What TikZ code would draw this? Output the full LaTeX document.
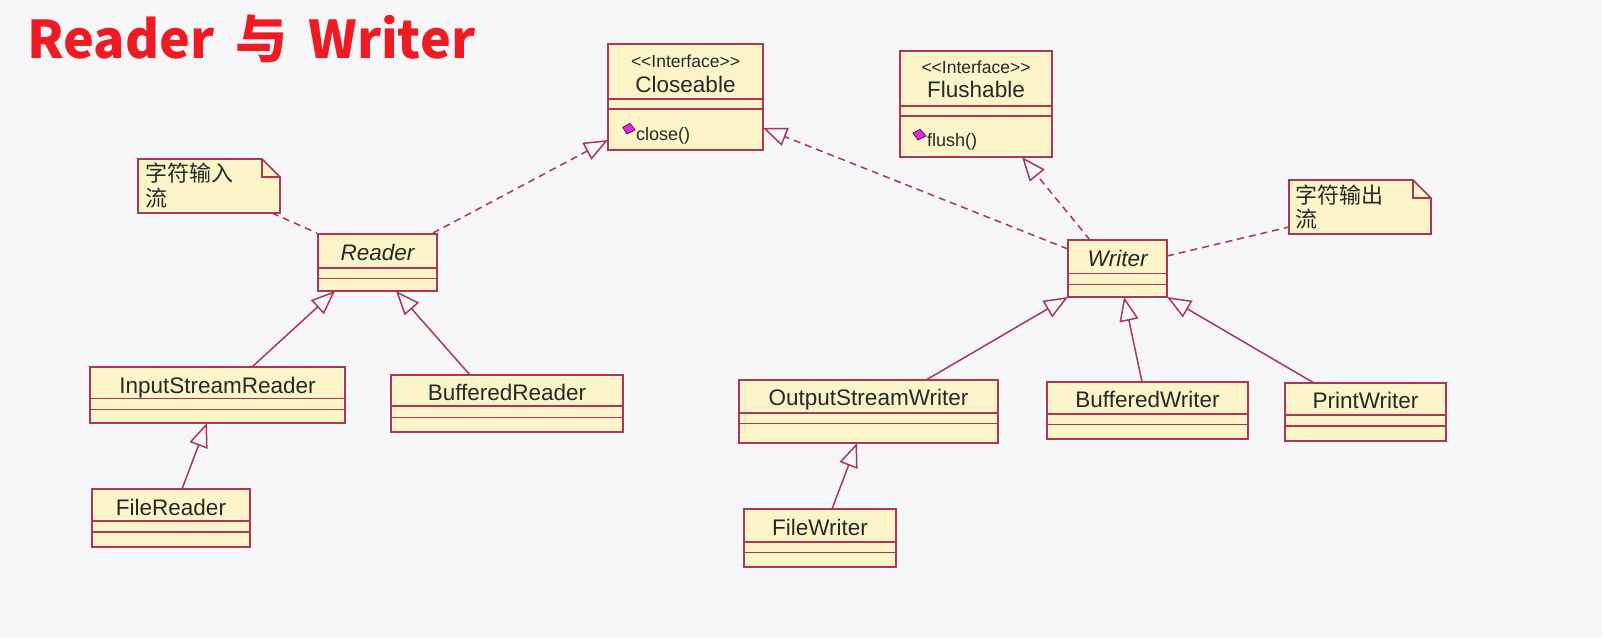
\documentclass[tikz,border=0pt]{standalone}
\usepackage{fontspec}
\setmainfont{Liberation Sans}
\newfontfamily\cjk{Noto Sans CJK SC}
\usetikzlibrary{arrows.meta}
\definecolor{bgc}{RGB}{246,246,248}
\definecolor{umlline}{RGB}{170,55,85}
\definecolor{umlfill}{RGB}{250,244,200}
\definecolor{umltext}{RGB}{40,40,40}
\definecolor{titlered}{RGB}{237,28,36}
\definecolor{iconfill}{RGB}{230,40,220}
\definecolor{iconedge}{RGB}{90,20,90}
\newcommand\LL{<\kern0pt<}
\newcommand\GG{>\kern0pt>}
\tikzset{
  clsbox/.style={draw=umlline, fill=umlfill, line width=1.6pt, inner sep=0pt, outer sep=0pt, rectangle},
  divider/.style={draw=umlline, line width=1.6pt},
  notebox/.style={draw=umlline, fill=umlfill, line width=1.6pt, line join=miter},
  cname/.style={text=umltext, font=\fontsize{22.5}{27}\selectfont, anchor=base, inner sep=0pt},
  iname/.style={cname, font=\fontsize{22.5}{27}\selectfont\itshape},
  stereo/.style={text=umltext, font=\fontsize{17.5}{20}\selectfont, anchor=base, inner sep=0pt},
  meth/.style={text=umltext, font=\fontsize{18}{22}\selectfont, anchor=base west, inner sep=0pt},
  notetext/.style={text=umltext, font=\cjk\fontsize{22}{27}\selectfont, anchor=base west, inner sep=0pt},
  opentri/.tip={Triangle[open, length=24pt, width=19pt, line width=1.5pt]},
  gen/.style={draw=umlline, line width=1.5pt, -opentri},
  realize/.style={draw=umlline, line width=1.5pt, dash pattern=on 7pt off 5pt, -opentri},
  notelink/.style={draw=umlline, line width=1.5pt, dash pattern=on 7pt off 5pt},
  icon/.style={fill=iconfill, draw=iconedge, line width=0.8pt, line join=round},
}
% name, x1, y1, x2, y2, divider1, divider2
\newcommand\umlclass[7]{%
  \node[clsbox, minimum width={(#4-#2)*1pt}, minimum height={(#5-#3)*1pt}] (#1) at ({(#2+#4)/2},{(#3+#5)/2}) {};
  \draw[divider] ({#2},{#6}) -- ({#4},{#6});
  \draw[divider] ({#2},{#7}) -- ({#4},{#7});
}
% name, x1, y1, x2, y2, fold
\newcommand\umlnote[6]{%
  \node[inner sep=0pt, outer sep=0pt, minimum width={(#4-#2)*1pt}, minimum height={(#5-#3)*1pt}] (#1) at ({(#2+#4)/2},{(#3+#5)/2}) {};
  \draw[notebox] (#1.north west) -- ([xshift=-#6pt]#1.north east) -- ([yshift=-#6pt]#1.north east) -- (#1.south east) -- (#1.south west) -- cycle;
  \draw[notebox, fill=none] ([xshift=-#6pt]#1.north east) |- ([yshift=-#6pt]#1.north east);
}
\begin{document}
\begin{tikzpicture}[x=1pt, y=-1pt]
\fill[bgc] (0,0) rectangle (1602,637);
\useasboundingbox (0,0) rectangle (1602,637);

% title
\node[anchor=base west, inner sep=0pt, text=titlered, font=\cjk\bfseries\fontsize{52}{60}\selectfont] (title) at (27,58.3) {Reader\hspace{21pt}与\hspace{21pt}Writer};

% interfaces
\umlclass{closeable}{608}{44}{763}{150}{99}{109}
\node[stereo] (closeable-s) at (685.5,67.5) {\LL Interface\GG};
\node[cname] (closeable-n) at (685.5,92.3) {Closeable};
\draw[icon] (622.7,127.3) -- (630,123.3) -- (635,130) -- (626.7,134) -- cycle;
\node[meth] (closeable-m) at (636,140.5) {close()};

\umlclass{flushable}{900}{51}{1052}{157}{106}{116}
\node[stereo] (flushable-s) at (976,73.3) {\LL Interface\GG};
\node[cname] (flushable-n) at (976,97.3) {Flushable};
\draw[icon] (913,133) -- (920,129.3) -- (926,136) -- (918,140) -- cycle;
\node[meth] (flushable-m) at (927,146) {flush()};

% abstract classes
\umlclass{reader}{318}{234}{437}{291}{268}{278.5}
\node[iname] (reader-n) at (377.5,260) {Reader};
\umlclass{writer}{1068}{240}{1167}{297}{273.5}{284.5}
\node[iname] (writer-n) at (1117.5,266.7) {Writer};

% notes
\umlnote{note1}{138}{159}{280}{213}{18}
\node[notetext] (note1-a) at (145,181) {字符输入};
\node[notetext] (note1-b) at (145,206.7) {流};
\umlnote{note2}{1289}{180}{1431}{234}{18}
\node[notetext] (note2-a) at (1295,203.4) {字符输出};
\node[notetext] (note2-b) at (1295,227.5) {流};

% concrete classes
\umlclass{isr}{90}{367}{345}{423}{398.5}{409.5}
\node[cname] (isr-n) at (217.5,393.3) {InputStreamReader};
\umlclass{br}{391}{375}{623}{432}{406}{417.3}
\node[cname] (br-n) at (507,400) {BufferedReader};
\umlclass{fr}{92}{489}{250}{547}{521}{532}
\node[cname] (fr-n) at (171,515) {FileReader};
\umlclass{osw}{739}{380}{998}{443}{413}{423.5}
\node[cname] (osw-n) at (868.5,405) {OutputStreamWriter};
\umlclass{bw}{1047}{382}{1248}{439}{414}{424.5}
\node[cname] (bw-n) at (1147.5,407.7) {BufferedWriter};
\umlclass{pw}{1285}{383}{1446}{441}{415}{426}
\node[cname] (pw-n) at (1365.5,408.3) {PrintWriter};
\umlclass{fw}{744}{509}{896}{567}{542}{552.5}
\node[cname] (fw-n) at (820,535.7) {FileWriter};

% note links
\draw[notelink] ([xshift=63pt]note1.south) -- ([xshift=-1pt,yshift=1pt]reader.north west);
\draw[notelink] ([yshift=12.5pt]writer.east) -- ([yshift=-20pt]note2.west);

% realizations
\draw[realize] ([xshift=-4pt,yshift=1pt]reader.north east) -- ([yshift=-43pt]closeable.west);
\draw[realize] ([yshift=19.5pt]writer.west) -- ([yshift=-31pt]closeable.east);
\draw[realize] ([xshift=-27.5pt]writer.north) -- ([xshift=46pt]flushable.south);

% generalizations
\draw[gen] ([xshift=34.5pt]isr.north) -- ([xshift=-42.5pt]reader.south);
\draw[gen] ([xshift=-37pt]br.north) -- ([xshift=18.5pt]reader.south);
\draw[gen] ([xshift=11pt]fr.north) -- ([xshift=-10.5pt]isr.south);
\draw[gen] ([xshift=57.5pt]osw.north) -- (writer.south west);
\draw[gen] ([xshift=-5.5pt]bw.north) -- ([xshift=6.5pt]writer.south);
\draw[gen] ([xshift=-51.5pt]pw.north) -- (writer.south east);
\draw[gen] ([xshift=12pt]fw.north) -- ([xshift=-11.5pt]osw.south);
\end{tikzpicture}
\end{document}
